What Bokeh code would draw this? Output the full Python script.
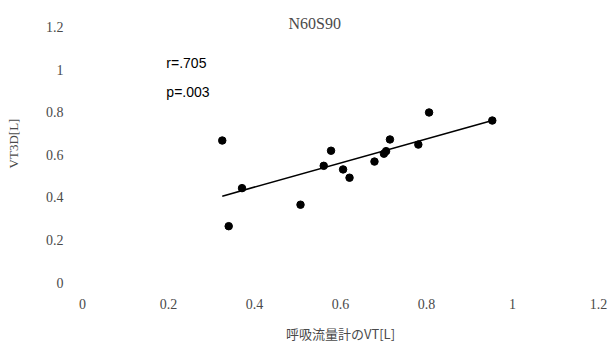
from bokeh.plotting import figure
from bokeh.models import Range1d, FixedTicker, Label
from bokeh.embed import file_html
from bokeh.resources import INLINE

# Data
x_vals = [0.325, 0.340, 0.371, 0.507, 0.561, 0.578, 0.606, 0.621,
          0.679, 0.701, 0.706, 0.715, 0.781, 0.806, 0.953]
y_vals = [0.668, 0.265, 0.444, 0.366, 0.549, 0.620, 0.532, 0.493,
          0.569, 0.606, 0.618, 0.673, 0.649, 0.800, 0.762]
fit_slope = 0.567
fit_intercept = 0.222
ticks = [0, 0.2, 0.4, 0.6, 0.8, 1, 1.2]
tick_labels = {0: "0", 0.2: "0.2", 0.4: "0.4", 0.6: "0.6", 0.8: "0.8", 1: "1", 1.2: "1.2"}
title_text = "N60S90"
stat_lines = ["r=.705", "p=.003"]
x_label = "呼吸流量計のVT[L]"
y_label = "VT3D[L]"

SERIF = "Liberation Serif"
GRAY = "#4a4a4a"

p = figure(width=612, height=348, output_backend="svg", toolbar_location=None,
           x_range=Range1d(0, 1.2), y_range=Range1d(0, 1.308),
           min_border_left=82, min_border_right=14, min_border_top=4, min_border_bottom=66)
p.outline_line_color = None
p.xgrid.visible = False
p.ygrid.visible = False

for ax in (p.xaxis[0], p.yaxis[0]):
    ax.ticker = FixedTicker(ticks=ticks)
    ax.major_label_overrides = tick_labels
    ax.axis_line_color = None
    ax.major_tick_line_color = None
    ax.minor_tick_line_color = None
    ax.major_tick_out = 0
    ax.major_tick_in = 0
    ax.major_label_text_font = SERIF
    ax.major_label_text_font_size = "14px"
    ax.major_label_text_color = GRAY
    ax.axis_label_text_font_style = "normal"
    ax.axis_label_text_color = GRAY

p.xaxis.major_label_standoff = 16
p.yaxis.major_label_standoff = 19
p.xaxis.axis_label = x_label
p.xaxis.axis_label_text_font = "Noto Sans CJK JP"
p.xaxis.axis_label_text_font_size = "13px"
p.xaxis.axis_label_standoff = 12
p.yaxis.axis_label = y_label
p.yaxis.axis_label_text_font = SERIF
p.yaxis.axis_label_text_font_size = "13px"
p.yaxis.axis_label_standoff = 22

# regression line
lx = [min(x_vals), max(x_vals)]
ly = [fit_intercept + fit_slope * v for v in lx]
p.line(lx, ly, line_color="black", line_width=1.6)
p.scatter(x_vals, y_vals, size=7.5, fill_color="black", line_color="black")

p.add_layout(Label(x=0.54, y=1.22, text=title_text, text_font=SERIF, text_font_size="16px",
                   text_color=GRAY, text_align="center", text_baseline="middle"))
for i, s in enumerate(stat_lines):
    p.add_layout(Label(x=0.195, y=1.035 - i * 0.141, text=s, text_font="Liberation Sans",
                       text_font_size="14px", text_color="black",
                       text_align="left", text_baseline="middle"))

open("out.html", "w").write(file_html(p, INLINE))
